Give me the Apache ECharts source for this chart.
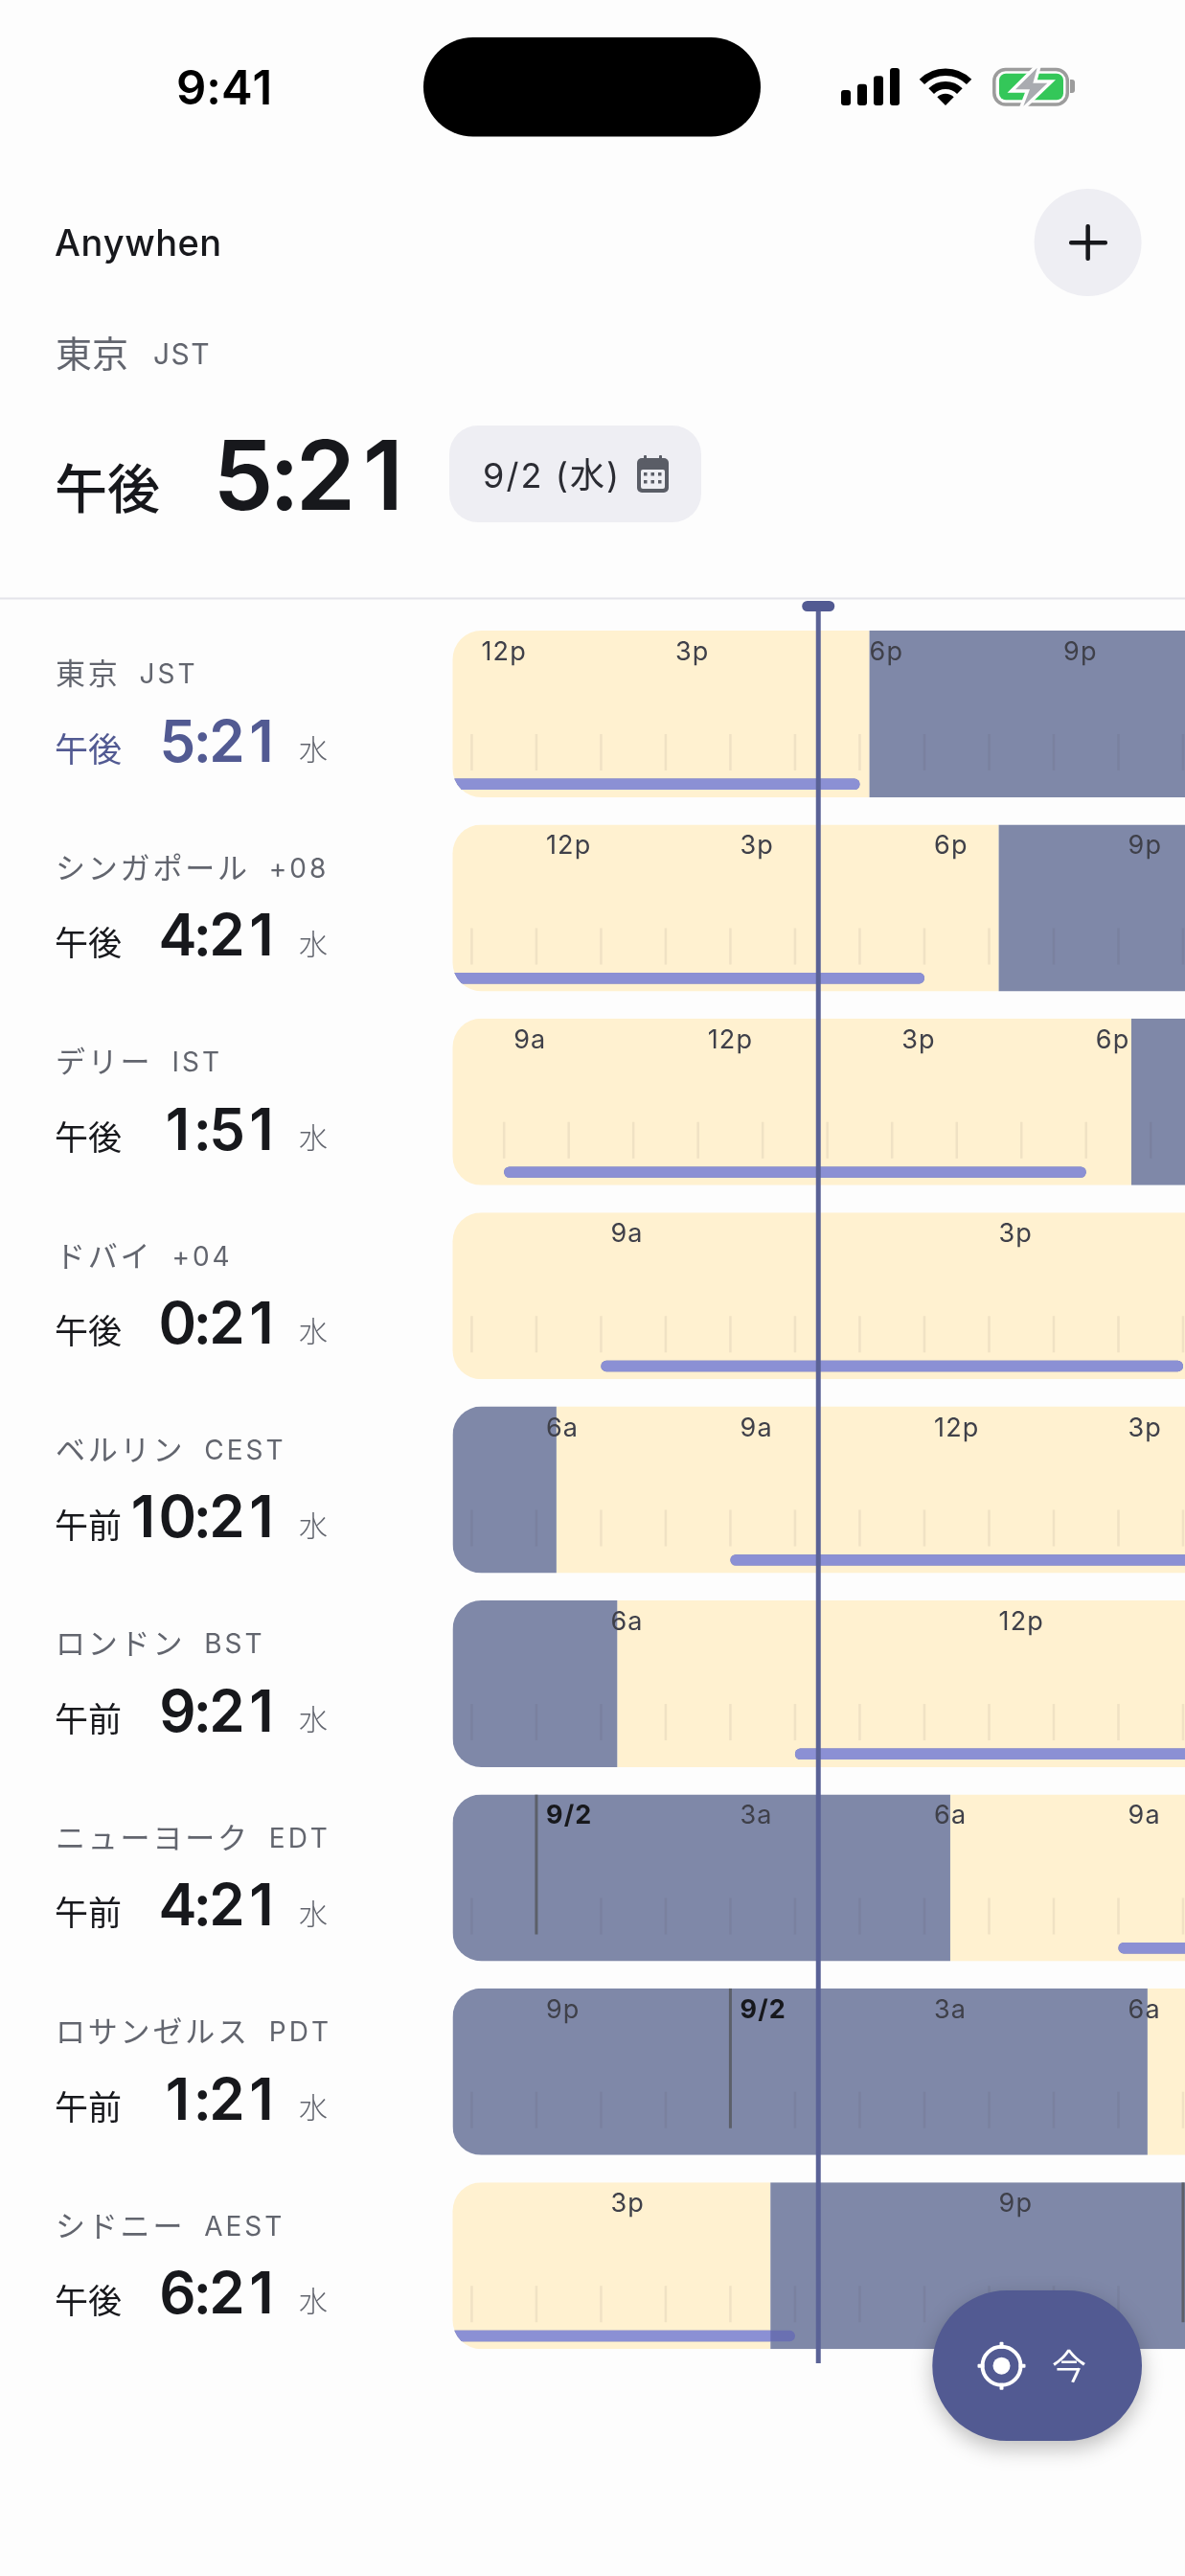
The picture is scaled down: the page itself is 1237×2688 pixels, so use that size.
<!DOCTYPE html>
<html>

	<head>
		<meta charset="UTF-8">
		<title>Anywhen</title>
		<style>
			* {
				margin: 0;
				padding: 0;
			}

			html,
			body {
				width: 100%;
				height: 100%;
				overflow: hidden;
				background-color: #fdfdfd;
			}

			#main {
				width: 1237px;
				height: 2688px;
			}
		</style>
	</head>

	<body>
		<div id="main"></div>
	</body>
	<script type="text/javascript" src="https://cdn.jsdelivr.net/npm/echarts@6/dist/echarts.min.js"></script>
	<script>
		var cities = ['東京', 'シンガポール', 'デリー', 'ドバイ', 'ベルリン', 'ロンドン', 'ニューヨーク', 'ロサンゼルス', 'シドニー'];
		var zones = ['JST', '+08', 'IST', '+04', 'CEST', 'BST', 'EDT', 'PDT', 'AEST'];
		var ampm = ['午後', '午後', '午後', '午後', '午前', '午前', '午前', '午前', '午後'];
		var clocks = ['5:21', '4:21', '1:51', '0:21', '10:21', '9:21', '4:21', '1:21', '6:21'];
		var weekday = '水';
		// 東京との時差(時間)
		var offsets = [0, -1, -3.5, -5, -7, -8, -13, -16, 1];
		// 昼の時間帯(現地時間)
		var dayStart = [5, 5, 6, 6, 6.31, 6.25, 6.4, 6.45, 6];
		var dayEnd = [18.15, 19.15, 18.7, 19, 20.5, 20, 19.5, 19.5, 17.62];
		// 勤務時間(現地時間)
		var workStart = 9;
		var workEnd = 18;
		// 目盛りラベル(現地時間)
		var labelHours = [
			[12, 15, 18, 21],
			[12, 15, 18, 21],
			[9, 12, 15, 18],
			[9, 15],
			[6, 9, 12, 15],
			[6, 12],
			[0, 3, 6, 9],
			[-3, 0, 3, 6],
			[15, 21]
		];
		var labelTexts = [
			['12p', '3p', '6p', '9p'],
			['12p', '3p', '6p', '9p'],
			['9a', '12p', '3p', '6p'],
			['9a', '3p'],
			['6a', '9a', '12p', '3p'],
			['6a', '12p'],
			['9/2', '3a', '6a', '9a'],
			['9p', '9/2', '3a', '6a'],
			['3p', '9p']
		];
		var nowHour = 17.36; // 東京 17:21
		var viewMin = 11.705;
		var viewMax = 23.03;

		var FONT = 'Inter, "Noto Sans CJK JP", sans-serif';
		var INK = '#17181c';
		var GRAY = '#62656e';
		var ACCENT = '#525a92';
		var DAY = '#fff1d0';
		var NIGHT = '#7f88a8';
		var WORK = '#8b90d4';
		var WORK_NIGHT = '#6a70b2';
		var ROW_H = 174;

		var measure = document.createElement('canvas').getContext('2d');

		function fontOf(size, weight) {
			return (weight || 400) + ' ' + size + 'px ' + FONT;
		}

		function txt(x, y, text, size, color, weight, align) {
			return {
				type: 'text',
				silent: true,
				style: {
					x: x,
					y: y + size * 0.07,
					text: text,
					fill: color,
					font: fontOf(size, weight),
					textAlign: align || 'left',
					textVerticalAlign: 'middle'
				}
			};
		}

		// 字間つきテキスト。out に要素を足して終端の x を返す
		function spaced(out, x, y, text, size, color, weight, gap) {
			measure.font = fontOf(size, weight);
			text.split('').forEach(function(ch) {
				out.push(txt(x, y, ch, size, color, weight));
				x += measure.measureText(ch).width + gap;
			});
			return x;
		}

		// 等幅数字の時刻。right は右端、セルは文字サイズに比例
		function tabularClock(out, right, y, text, size, color) {
			var digit = size * 0.6;
			var colon = size * 0.43;
			var x = right - size * 0.3;
			var chars = text.split('').reverse();
			chars.forEach(function(ch, n) {
				out.push(txt(x, y, ch, size, color, 600, 'center'));
				var next = chars[n + 1];
				if(next === undefined) {
					return;
				}
				x -= (ch === ':' || next === ':') ? colon : digit;
			});
		}

		function renderRow(params, api) {
			var i = api.value(0);
			var off = offsets[i];
			var center = api.coord([viewMin, i]);
			var left = center[0];
			var top = center[1] - ROW_H / 2;
			var right = api.coord([viewMax, i])[0];
			var width = right - left;

			function xOf(local) {
				return api.coord([local - off, i])[0];
			}

			var kids = [];
			var dayX0 = xOf(dayStart[i]);
			var dayX1 = xOf(dayEnd[i]);
			// 昼
			kids.push({
				type: 'rect',
				shape: { x: dayX0, y: top, width: dayX1 - dayX0, height: ROW_H },
				style: { fill: DAY }
			});
			// 夜
			if(dayX0 > left) {
				kids.push({
					type: 'rect',
					shape: { x: left, y: top, width: dayX0 - left, height: ROW_H },
					style: { fill: NIGHT }
				});
			}
			if(dayX1 < right) {
				kids.push({
					type: 'rect',
					shape: { x: dayX1, y: top, width: right - dayX1, height: ROW_H },
					style: { fill: NIGHT }
				});
			}
			// 1時間ごとの目盛り
			var firstHour = Math.ceil(viewMin + off);
			var lastHour = Math.floor(viewMax + off);
			for(var h = firstHour; h <= lastHour; h++) {
				var midnight = h % 24 === 0;
				kids.push({
					type: 'rect',
					shape: {
						x: xOf(h) - (midnight ? 1.5 : 1.25),
						y: midnight ? top : top + 108,
						width: midnight ? 3 : 2.5,
						height: midnight ? 146 : 38
					},
					style: { fill: midnight ? '#5c6069' : 'rgba(70,55,70,0.08)' }
				});
			}
			// 勤務時間バー
			var barX0 = xOf(workStart);
			var barX1 = xOf(workEnd);
			kids.push({
				type: 'rect',
				shape: { x: barX0, y: top + 154.6, width: barX1 - barX0, height: 11.4, r: 5.5 },
				style: { fill: WORK_NIGHT }
			});
			var litX0 = Math.max(barX0, dayX0);
			var litX1 = Math.min(barX1, dayX1);
			if(litX1 > litX0) {
				kids.push({
					type: 'rect',
					shape: {
						x: litX0,
						y: top + 154.6,
						width: litX1 - litX0,
						height: 11.4,
						r: [litX0 === barX0 ? 5.5 : 0, litX1 === barX1 ? 5.5 : 0, litX1 === barX1 ? 5.5 : 0, litX0 === barX0 ? 5.5 : 0]
					},
					style: { fill: WORK }
				});
			}
			// 時刻ラベル
			labelHours[i].forEach(function(hour, n) {
				var label = labelTexts[i][n];
				var isDate = label.indexOf('/') >= 0;
				spaced(kids, xOf(hour) + 10, top + 21, label, 27, isDate ? INK : '#3f4049', isDate ? 700 : 400, 1.2);
			});

			var cityColor = i === 0 ? ACCENT : INK;
			var side = [];
			var endX = spaced(side, 58, top + 45, cities[i], 31, GRAY, 400, 2.8);
			spaced(side, endX + 20, top + 45, zones[i], 28, GRAY, 400, 3);
			side.push(txt(57, top + 124, ampm[i], 35, cityColor, 400));
			tabularClock(side, 291, top + 114.5, clocks[i], 60, cityColor);
			side.push(txt(312, top + 124, weekday, 30, GRAY, 300));

			return {
				type: 'group',
				children: [{
						type: 'group',
						clipPath: {
							type: 'rect',
							shape: { x: left, y: top, width: width, height: ROW_H, r: [30, 0, 0, 30] }
						},
						children: kids
					},
					{
						type: 'group',
						children: side
					}
				]
			};
		}

		function renderNow(params, api) {
			var x = api.coord([api.value(0), 0])[0];
			return {
				type: 'group',
				children: [{
						type: 'rect',
						shape: { x: x - 2.5, y: 632, width: 5, height: 1834 },
						style: { fill: '#5a6296' }
					},
					{
						type: 'rect',
						shape: { x: x - 17, y: 627, width: 34, height: 11, r: 5.5 },
						style: { fill: ACCENT }
					}
				]
			};
		}

		function box(x, y, w, h, r, fill, z) {
			return {
				type: 'rect',
				z: z || 10,
				shape: { x: x, y: y, width: w, height: h, r: r || 0 },
				style: { fill: fill }
			};
		}

		function withZ(items, z) {
			items.forEach(function(el) {
				el.z = z;
			});
			return items;
		}

		var boltPoints = [[1082.7, 70.7], [1060, 93.3], [1075, 93.3], [1068.3, 110.7], [1093.3, 86.7], [1078.3, 86.7]];

		var headerTexts = [];
		spaced(headerTexts, 184, 91, '9:41', 49, '#000', 600, 0);
		spaced(headerTexts, 57, 253, 'Anywhen', 38, INK, 500, 0.5);
		spaced(headerTexts, 58, 369, '東京', 38, GRAY, 400, 0);
		spaced(headerTexts, 160, 369, 'JST', 30, GRAY, 400, 1.5);
		headerTexts.push(txt(57, 510, '午後', 55, INK, 500));
		tabularClock(headerTexts, 430, 495, '5:21', 100, INK);
		spaced(headerTexts, 504, 496, '9/2 (水)', 36, '#2b2c33', 400, 2.1);
		withZ(headerTexts, 11);

		var chart = echarts.init(document.getElementById('main'));
		var option = {
			backgroundColor: '#fdfdfd',
			animation: false,
			grid: {
				left: 472.5,
				top: 643.8,
				width: 764.5,
				height: 1821.6
			},
			xAxis: {
				type: 'value',
				show: false,
				min: viewMin,
				max: viewMax,
				splitLine: { show: false }
			},
			yAxis: {
				type: 'category',
				show: false,
				inverse: true,
				data: cities
			},
			series: [{
					name: 'rows',
					type: 'custom',
					z: 2,
					clip: false,
					renderItem: renderRow,
					encode: { x: 1, y: 0 },
					data: cities.map(function(name, i) {
						return [i, offsets[i]];
					})
				},
				{
					name: 'now',
					type: 'custom',
					z: 5,
					clip: false,
					renderItem: renderNow,
					encode: { x: 0 },
					data: [[nowHour]]
				}
			],
			graphic: [
				// ステータスバー
				box(442, 39, 352, 103.5, 51.7, '#000'),
				box(878, 94, 10, 16, 3, '#000'),
				box(895, 87.7, 10, 22.3, 3, '#000'),
				box(912, 79.3, 10, 30.7, 3, '#000'),
				box(929, 71, 10, 39, 3, '#000'),
				{
					type: 'arc',
					z: 10,
					shape: { cx: 987, cy: 110, r: 34.8, startAngle: -Math.PI * 0.75, endAngle: -Math.PI * 0.25 },
					style: { stroke: '#000', lineWidth: 7.5, fill: null }
				},
				{
					type: 'arc',
					z: 10,
					shape: { cx: 987, cy: 110, r: 21, startAngle: -Math.PI * 0.75, endAngle: -Math.PI * 0.25 },
					style: { stroke: '#000', lineWidth: 8, fill: null }
				},
				{
					type: 'sector',
					z: 10,
					shape: { cx: 987, cy: 110, r: 12.3, r0: 0, startAngle: -Math.PI * 0.75, endAngle: -Math.PI * 0.25 },
					style: { fill: '#000' }
				},
				{
					type: 'rect',
					z: 10,
					shape: { x: 1037.8, y: 72.5, width: 76.5, height: 36.5, r: 12 },
					style: { fill: null, stroke: '#9c9c9c', lineWidth: 3.5 }
				},
				box(1043, 76.7, 67, 27.6, 7, '#34c759'),
				box(1117, 83, 5, 14, [0, 3, 3, 0], '#9c9c9c'),
				{
					type: 'polygon',
					z: 11,
					shape: { points: boltPoints },
					style: { fill: '#fdfdfd', stroke: '#fdfdfd', lineWidth: 7 }
				},
				{
					type: 'polygon',
					z: 12,
					shape: { points: boltPoints },
					style: { fill: '#a9abb0' }
				},
				// ヘッダー
				{
					type: 'circle',
					z: 10,
					shape: { cx: 1135.6, cy: 253, r: 56 },
					style: { fill: '#eeeef3' }
				},
				box(1116, 251, 40, 4.5, 2, INK, 11),
				box(1133.4, 234, 4.5, 38, 2, INK, 11),
				box(469, 444, 263, 101, 30, '#eeeef3'),
				box(665, 478, 33, 36, 5, '#5a5d66', 11),
				box(672, 475, 3, 7, 1, '#5a5d66', 11),
				box(688, 475, 3, 7, 1, '#5a5d66', 11),
				box(669, 490, 25, 20, 2, '#eeeef3', 12),
				box(672, 493, 3.5, 3.5, 0, '#5a5d66', 13),
				box(679.5, 493, 3.5, 3.5, 0, '#5a5d66', 13),
				box(687, 493, 3.5, 3.5, 0, '#5a5d66', 13),
				box(672, 501, 3.5, 3.5, 0, '#5a5d66', 13),
				box(679.5, 501, 3.5, 3.5, 0, '#5a5d66', 13),
				box(687, 501, 3.5, 3.5, 0, '#5a5d66', 13),
				box(0, 623.5, 1237, 2, 0, '#e4e4ea', 1),
				// 今ボタン
				{
					type: 'rect',
					z: 100,
					shape: { x: 973.3, y: 2390, width: 218.7, height: 157, r: 78 },
					style: {
						fill: ACCENT,
						shadowBlur: 22,
						shadowOffsetY: 8,
						shadowColor: 'rgba(0,0,0,0.25)'
					}
				},
				{
					type: 'circle',
					z: 101,
					shape: { cx: 1045.5, cy: 2468.7, r: 20 },
					style: { fill: null, stroke: '#fff', lineWidth: 4 }
				},
				{
					type: 'circle',
					z: 101,
					shape: { cx: 1045.5, cy: 2468.7, r: 9 },
					style: { fill: '#fff' }
				},
				box(1043.5, 2443.7, 4, 7, 1, '#fff', 101),
				box(1043.5, 2486.7, 4, 7, 1, '#fff', 101),
				box(1020.5, 2466.7, 7, 4, 1, '#fff', 101),
				box(1063.5, 2466.7, 7, 4, 1, '#fff', 101)
			].concat(headerTexts, withZ([txt(1098, 2470, '今', 36, '#fff', 400)], 101))
		};
		chart.setOption(option);

		window.onresize = function(ev) {
			chart.resize();
		}
	</script>

</html>
